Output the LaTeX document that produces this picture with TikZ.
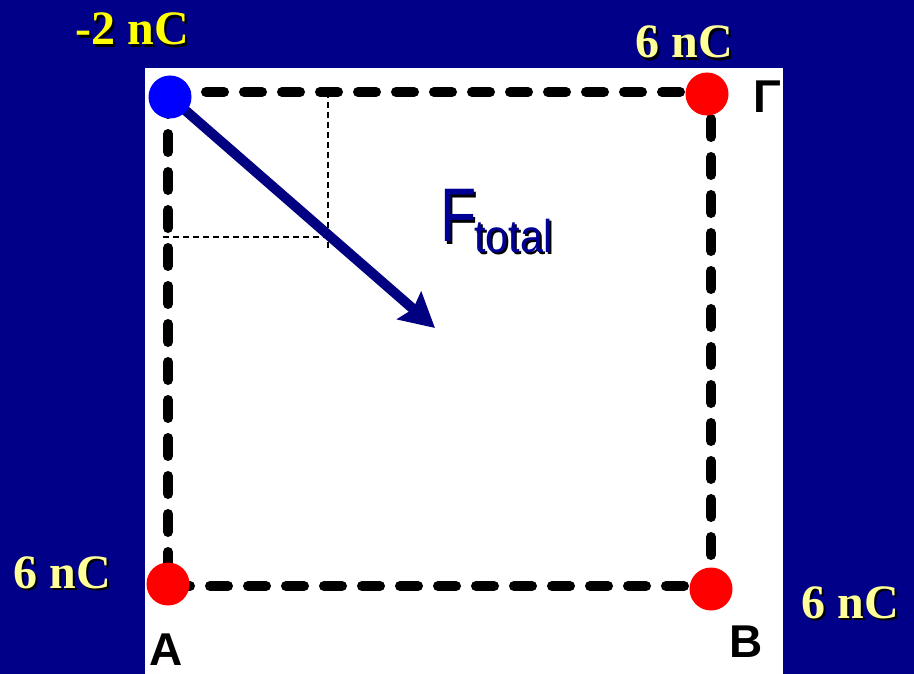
\documentclass[tikz,border=0pt]{standalone}
\usepackage{fontspec}
\setmainfont{Liberation Serif}
\newfontfamily\sansf{Liberation Sans}
\usetikzlibrary{arrows.meta}
\pgfdeclarelayer{background}
\pgfsetlayers{background,main}
\definecolor{bgnavy}{RGB}{0,0,136}
\definecolor{arrownavy}{RGB}{0,0,128}
\definecolor{fnavy}{RGB}{0,0,150}
\definecolor{lbly}{RGB}{255,255,0}
\definecolor{lblpale}{RGB}{255,255,153}
\newcommand{\shadowtxt}[2]{\rlap{\hspace{2.5pt}\raisebox{-2.5pt}{\color{black}#2}}{\color{#1}#2}}
\begin{document}
\begin{tikzpicture}[x=1pt,y=-1pt,
  charge/.style={circle,minimum size=43pt,inner sep=0pt,draw=none},
  sqline/.style={line width=10pt,line cap=round,dash pattern=on 18pt off 20pt},
  helper/.style={line width=2pt,dash pattern=on 6pt off 4pt},
  force/.style={line width=10pt,color=arrownavy,-{Stealth[length=34pt,width=36pt,inset=5pt]}},
  qlbl/.style={font=\fontsize{48}{48}\selectfont\bfseries,anchor=base,inner sep=0pt},
  ptlbl/.style={font=\fontsize{46}{46}\selectfont\sansf\bfseries,anchor=base,inner sep=0pt,text=black}]
\useasboundingbox (0,0) rectangle (914,674);
% corners of the dashed square
\coordinate (c1) at (168,92);
\coordinate (c2) at (711,92);
\coordinate (c3) at (711,586);
\coordinate (c4) at (168,586);
% helper dashed lines
\coordinate (vtop) at (328,92);
\coordinate (vbot) at (328,251);
\coordinate (hl) at (163,237);
\coordinate (hr) at (328,237);
\coordinate (tip) at (435,328);
% charges
\node[charge,fill=blue] (q1) at (170,97) {};
\node[charge,fill=red] (q2) at (707,94) {};
\node[charge,fill=red] (q3) at (168,584) {};
\node[charge,fill=red] (q4) at (711,589) {};
\begin{pgfonlayer}{background}
\fill[bgnavy] (0,0) rectangle (914,674);
\fill[white] (145,68) rectangle (783,674);
\draw[sqline] (c1) -- (c2) -- (c3) -- (c4) -- cycle;
\draw[helper] (vtop) -- (vbot);
\draw[helper] (hl) -- (hr);
\draw[force] (q1.center) -- (tip);
\end{pgfonlayer}
% charge labels with shadows
\node[qlbl] (l1) at (132,45) {\shadowtxt{lbly}{-2 nC}};
\node[qlbl] (l2) at (684,58) {\shadowtxt{lblpale}{6 nC}};
\node[qlbl] (l3) at (62,588) {\shadowtxt{lblpale}{6 nC}};
\node[qlbl] (l4) at (850,618) {\shadowtxt{lblpale}{6 nC}};
% point labels
\node[ptlbl] (gam) at (767,113) {Γ};
\node[ptlbl] (pa) at (166,665) {A};
\node[ptlbl] (pb) at (746,657) {B};
% F_total
\node[anchor=base west,inner sep=0pt,font=\fontsize{76}{76}\selectfont\sansf] (f) at (440,242) {\scalebox{0.78}[1]{\shadowtxt{fnavy}{F}}};
\node[anchor=base west,inner sep=0pt,font=\fontsize{46}{46}\selectfont\sansf] (t) at (474,252) {\scalebox{0.9}[1]{\shadowtxt{fnavy}{total}}};
\end{tikzpicture}
\end{document}
